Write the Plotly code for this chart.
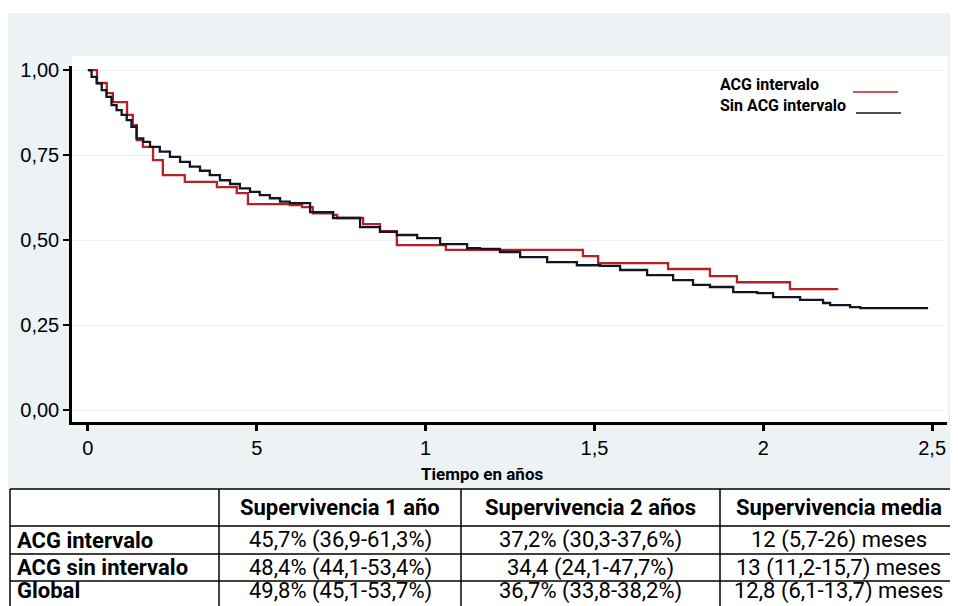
import plotly.graph_objects as go

# ---------------- data ----------------
# Kaplan-Meier estimates (time in years, survival probability)
acg_int_t = [0, 0.027, 0.056, 0.074, 0.116, 0.133, 0.145, 0.163, 0.193, 0.222, 0.287,
             0.382, 0.441, 0.474, 0.598, 0.634, 0.666, 0.726, 0.738, 0.815, 0.865, 0.915,
             1.06, 1.466, 1.511, 1.718, 1.842, 1.922, 2.079, 2.222]
acg_int_s = [1.0, 0.962, 0.932, 0.906, 0.868, 0.838, 0.794, 0.774, 0.735, 0.691, 0.671,
             0.656, 0.638, 0.606, 0.603, 0.597, 0.579, 0.574, 0.565, 0.547, 0.526, 0.485,
             0.471, 0.453, 0.432, 0.415, 0.394, 0.376, 0.356, 0.356]

sin_acg_t = [0, 0.011, 0.026, 0.041, 0.055, 0.070, 0.085, 0.100, 0.115, 0.129, 0.144,
             0.164, 0.184, 0.213, 0.243, 0.273, 0.302, 0.332, 0.361, 0.391, 0.421, 0.450,
             0.480, 0.509, 0.539, 0.569, 0.598, 0.658, 0.726, 0.806, 0.865, 0.915, 0.975,
             1.043, 1.123, 1.161, 1.22, 1.28, 1.36, 1.448, 1.517, 1.576, 1.656, 1.733,
             1.792, 1.842, 1.911, 1.982, 2.029, 2.109, 2.177, 2.198, 2.257, 2.287, 2.488]
sin_acg_s = [1.0, 0.980, 0.961, 0.941, 0.921, 0.897, 0.882, 0.868, 0.853, 0.833, 0.799,
             0.789, 0.774, 0.760, 0.745, 0.730, 0.716, 0.704, 0.691, 0.676, 0.665, 0.652,
             0.642, 0.632, 0.623, 0.613, 0.609, 0.582, 0.565, 0.538, 0.524, 0.515, 0.506,
             0.488, 0.476, 0.474, 0.465, 0.450, 0.435, 0.426, 0.424, 0.412, 0.397, 0.382,
             0.368, 0.362, 0.347, 0.344, 0.332, 0.324, 0.315, 0.309, 0.303, 0.300, 0.300]

x_tick_vals = [0, 0.5, 1, 1.5, 2, 2.5]
x_tick_text = ["0", "5", "1", "1,5", "2", "2,5"]
y_tick_vals = [0, 0.25, 0.5, 0.75, 1.0]
y_tick_text = ["0,00", "0,25", "0,50", "0,75", "1,00"]

legend_labels = ["ACG intervalo", "Sin ACG intervalo"]
x_title = "Tiempo en años"

table_header = ["", "Supervivencia 1 año", "Supervivencia 2 años", "Supervivencia media"]
table_rows = ["ACG intervalo", "ACG sin intervalo", "Global"]
surv_1y = ["45,7% (36,9-61,3%)", "48,4% (44,1-53,4%)", "49,8% (45,1-53,7%)"]
surv_2y = ["37,2% (30,3-37,6%)", "34,4 (24,1-47,7%)", "36,7% (33,8-38,2%)"]
surv_med = ["12 (5,7-26) meses", "13 (11,2-15,7) meses", "12,8 (6,1-13,7) meses"]

RED = "#b81f26"
BLACK = "#111722"

# ---------------- layout helpers (page pixel -> paper) ----------------
OFF = 8                      # page body margin of the browser
W, H = 958 - OFF, 606 - OFF  # figure size so that figure ends at page edge
PL, PR, PT, PB = 72, 947, 66, 422   # plot area in page pixels
ML, MR, MT, MB = PL - OFF, W - (PR - OFF), PT - OFF, H - (PB - OFF)
PW, PH = W - ML - MR, H - MT - MB


def PX(px):
    return (px - OFF - ML) / PW


def PY(py):
    return (H - MB - (py - OFF)) / PH


fig = go.Figure()
fig.add_trace(go.Scatter(x=acg_int_t, y=acg_int_s, mode="lines", line_shape="hv",
                         line=dict(color=RED, width=2.3), name=legend_labels[0],
                         showlegend=False))
fig.add_trace(go.Scatter(x=sin_acg_t, y=sin_acg_s, mode="lines", line_shape="hv",
                         line=dict(color=BLACK, width=2.3), name=legend_labels[1],
                         showlegend=False))

shapes = []
# light blue-grey panel behind chart
shapes.append(dict(type="rect", xref="paper", yref="paper", layer="below",
                   x0=PX(8), x1=PX(960), y0=PY(489), y1=PY(13),
                   fillcolor="#edf2f5", line=dict(width=0)))
# white plotting panel
shapes.append(dict(type="rect", xref="paper", yref="paper", layer="below",
                   x0=PX(72), x1=PX(948), y0=PY(422), y1=PY(56),
                   fillcolor="white", line=dict(width=0)))

# legend lines
shapes.append(dict(type="line", xref="paper", yref="paper", x0=PX(853), x1=PX(898),
                   y0=PY(92), y1=PY(92), line=dict(color=RED, width=1.5)))
shapes.append(dict(type="line", xref="paper", yref="paper", x0=PX(856), x1=PX(901),
                   y0=PY(113), y1=PY(113), line=dict(color=BLACK, width=1.5)))

# table grid
row_lines = [489, 526, 554, 581, 608]
col_lines = [10, 219, 461, 720, 957]
for ry in row_lines[:-1]:
    shapes.append(dict(type="line", xref="paper", yref="paper", x0=PX(col_lines[0]),
                       x1=PX(col_lines[-1]), y0=PY(ry), y1=PY(ry),
                       line=dict(color="black", width=1.5)))
for cx in col_lines:
    shapes.append(dict(type="line", xref="paper", yref="paper", x0=PX(cx), x1=PX(cx),
                       y0=PY(row_lines[0]), y1=PY(row_lines[-1]),
                       line=dict(color="black", width=1.5)))

annotations = []
# legend texts
for txt, py in zip(legend_labels, [84, 105]):
    annotations.append(dict(text="<b>" + txt + "</b>", xref="paper", yref="paper",
                            x=PX(718), y=PY(py), xanchor="left", yanchor="middle",
                            showarrow=False,
                            font=dict(family="Roboto", size=16, color="black")))
# x-axis title
annotations.append(dict(text="<b>" + x_title + "</b>", xref="paper", yref="paper",
                        x=PX(482), y=PY(474), xanchor="center", yanchor="middle",
                        showarrow=False, font=dict(family="Roboto", size=17, color="black")))

# table text
col_centers = [(col_lines[i] + col_lines[i + 1]) / 2 for i in range(4)]
row_centers = [(row_lines[i] + row_lines[i + 1]) / 2 for i in range(4)]
row_centers[-1] -= 4
TF = dict(family="Roboto", size=22, color="black")
for j in range(1, 4):
    annotations.append(dict(text="<b>" + table_header[j] + "</b>", xref="paper",
                            yref="paper", x=PX(col_centers[j]), y=PY(row_centers[0]),
                            xanchor="center", yanchor="middle", showarrow=False, font=TF))
for i, lab in enumerate(table_rows):
    yc = PY(row_centers[i + 1])
    annotations.append(dict(text="<b>" + lab + "</b>", xref="paper", yref="paper",
                            x=PX(col_lines[0] + 5), y=yc, xanchor="left",
                            yanchor="middle", showarrow=False, font=TF))
    for j, col in enumerate([surv_1y, surv_2y, surv_med]):
        annotations.append(dict(text=col[i], xref="paper", yref="paper",
                                x=PX(col_centers[j + 1]), y=yc, xanchor="center",
                                yanchor="middle", showarrow=False, font=TF))

fig.update_layout(
    width=W, height=H, autosize=False,
    margin=dict(l=ML, r=MR, t=MT, b=MB, pad=0),
    paper_bgcolor="white", plot_bgcolor="rgba(0,0,0,0)",
    shapes=shapes, annotations=annotations,
    xaxis=dict(range=[-0.047, 2.544], tickvals=x_tick_vals, ticktext=x_tick_text,
               ticks="outside", ticklen=6, tickwidth=2.5, tickcolor="black",
               showline=True, linecolor="black", linewidth=2.5, showgrid=False,
               zeroline=False, tickfont=dict(family="Liberation Sans", size=20,
                                             color="black")),
    yaxis=dict(range=[-0.035, 1.012], tickvals=y_tick_vals, ticktext=y_tick_text,
               ticks="outside", ticklen=6, tickwidth=2, tickcolor="black",
               showline=True, linecolor="black", linewidth=2.5, showgrid=True,
               gridcolor="#eef1f3", gridwidth=1, zeroline=False,
               tickfont=dict(family="Liberation Sans", size=20, color="black")),
    showlegend=False,
)

fig.write_html("out.html")
